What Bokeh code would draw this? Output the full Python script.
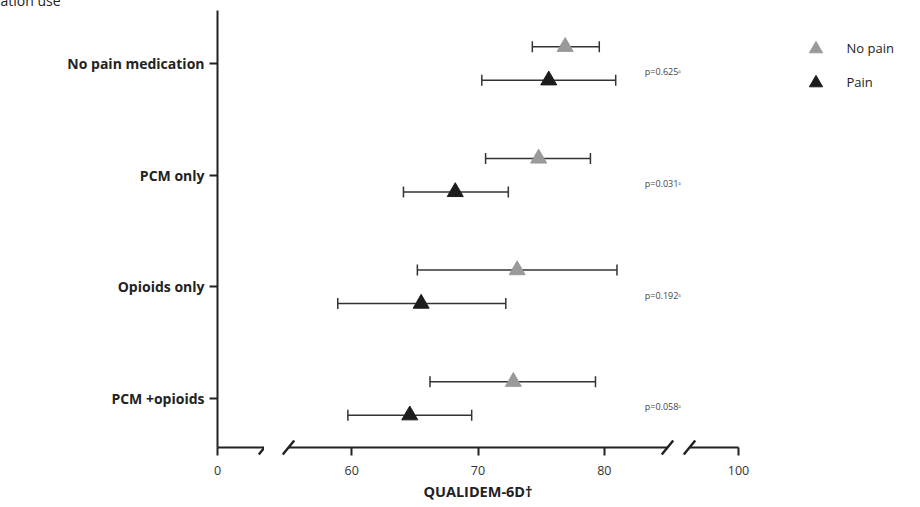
from bokeh.plotting import figure
from bokeh.models import (FixedTicker, Whisker, ColumnDataSource, Legend, LegendItem,
                          TeeHead, Range1d)
from bokeh.layouts import row
from bokeh.embed import file_html
from bokeh.resources import INLINE
from bokeh.core.properties import value

# ---------------- data ----------------
categories = ["No pain medication", "PCM only", "Opioids only", "PCM +opioids"]
cat_pos = [4, 3, 2, 1]
nopain_mean = [76.9, 74.8, 73.1, 72.8]
nopain_low = [74.3, 70.6, 65.2, 66.2]
nopain_high = [79.6, 78.9, 81.0, 79.3]
pain_mean = [75.6, 68.2, 65.5, 64.6]
pain_low = [70.3, 64.1, 58.9, 59.7]
pain_high = [80.9, 72.4, 72.2, 69.5]
p_values = ["p=0.625", "p=0.031", "p=0.192", "p=0.058"]
ticks_left = [0]
ticks_mid = [60, 70, 80]
ticks_right = [100]
series_names = ["No pain", "Pain"]
y_title = "Pain medication use"
x_title = "QUALIDEM-6D\u2020"

# ---------------- style ----------------
GREY = "#9a9a9a"
BLACK = "#1c1c1c"
AX = "#222222"
FONT = "Open Sans"
OFF = 0.15
NAN = float("nan")

y_range = Range1d(0.561, 4.475)
FRAME_H = 437


def base_fig(xr, fw, left, right, yaxis):
    p = figure(x_range=xr, y_range=y_range, frame_width=fw, frame_height=FRAME_H,
               min_border_left=left, min_border_right=right, min_border_top=10,
               min_border_bottom=0, output_backend="svg", toolbar_location=None,
               y_axis_location="left" if yaxis else None)
    p.outline_line_color = None
    p.xgrid.visible = False
    p.ygrid.visible = False
    p.background_fill_color = "white"
    p.border_fill_color = "white"
    xa = p.xaxis[0]
    xa.axis_line_width = 2
    xa.axis_line_color = AX
    xa.major_tick_line_width = 2
    xa.major_tick_line_color = AX
    xa.major_tick_out = 8
    xa.major_tick_in = 0
    xa.minor_tick_line_color = None
    xa.major_label_text_font = FONT
    xa.major_label_text_font_size = "12.5px"
    xa.major_label_text_color = "#333333"
    xa.major_label_standoff = 10
    return p


def add_slashes(p, xs):
    p.scatter(x=xs, y=[y_range.start] * len(xs), marker="dash", size=18,
              angle=0.88, line_color=AX, line_width=2.5, level="overlay")


# ---------- left panel (0) ----------
xA = Range1d(0, 3.76)
pA = base_fig(xA, 47, 217, 0, True)
pA.xaxis.ticker = FixedTicker(ticks=ticks_left)
ya = pA.yaxis[0]
ya.ticker = FixedTicker(ticks=cat_pos)
ya.major_label_overrides = {c: lab for c, lab in zip(cat_pos, categories)}
ya.axis_line_width = 2
ya.axis_line_color = AX
ya.major_tick_line_width = 2
ya.major_tick_line_color = AX
ya.major_tick_out = 8
ya.major_tick_in = 0
ya.minor_tick_line_color = None
ya.major_label_text_font = FONT
ya.major_label_text_font_style = "bold"
ya.major_label_text_font_size = "14px"
ya.major_label_text_color = AX
ya.major_label_standoff = 5
add_slashes(pA, [xA.end])
# title at the top-left, cut by the top edge as in the reference
pA.text(x=[xA.start], y=[y_range.end], text=[y_title], x_offset=-288.6, y_offset=-10,
        text_font=value(FONT), text_font_size="14px", text_color=AX,
        text_baseline="alphabetic", text_align="left", level="overlay")

# ---------- middle panel (55-85) ----------
xB = Range1d(55, 85)
pB = base_fig(xB, 379, 24, 15, False)
pB.xaxis.ticker = FixedTicker(ticks=ticks_mid)
pB.xaxis.axis_label = x_title
pB.xaxis.axis_label_text_font = FONT
pB.xaxis.axis_label_text_font_style = "bold"
pB.xaxis.axis_label_text_font_size = "14.5px"
pB.xaxis.axis_label_text_color = AX
pB.xaxis.axis_label_standoff = 4
add_slashes(pB, [xB.start, xB.end])

src_np = ColumnDataSource(dict(y=[c + OFF for c in cat_pos], mean=nopain_mean,
                               low=nopain_low, high=nopain_high))
src_p = ColumnDataSource(dict(y=[c - OFF for c in cat_pos], mean=pain_mean,
                              low=pain_low, high=pain_high))
for src in (src_np, src_p):
    w = Whisker(source=src, base="y", lower="low", upper="high", dimension="width",
                line_color="#333333", line_width=1.5,
                upper_head=TeeHead(size=11, line_color="#333333", line_width=1.5),
                lower_head=TeeHead(size=11, line_color="#333333", line_width=1.5))
    pB.add_layout(w)
pB.scatter("mean", "y", source=src_np, marker="triangle", size=16,
           fill_color=GREY, line_color=GREY)
pB.scatter("mean", "y", source=src_p, marker="triangle", size=16,
           fill_color=BLACK, line_color=BLACK)

pB.text(x=[83.2] * len(p_values), y=[c - 0.075 for c in cat_pos],
        text=[s + "\u1d43" for s in p_values], text_font=value(FONT),
        text_font_size="9px", text_color="#444444", text_baseline="middle",
        text_align="left", level="overlay")

# ---------- right panel (96-100, frame widened for the legend) ----------
xC = Range1d(96.1, 113.85)
pC = base_fig(xC, 223, 7, 0, False)
pC.xaxis.ticker = FixedTicker(ticks=ticks_right)
pC.xaxis.bounds = (xC.start, ticks_right[-1])
add_slashes(pC, [xC.start])

# legend-only renderers (one undrawable NaN point each, so the legend has a glyph)
leg_np = pC.scatter(x=[NAN], y=[NAN], marker="triangle", size=16,
                    fill_color=GREY, line_color=GREY)
leg_p = pC.scatter(x=[NAN], y=[NAN], marker="triangle", size=16,
                   fill_color=BLACK, line_color=BLACK)
legend = Legend(items=[LegendItem(label=series_names[0], renderers=[leg_np]),
                       LegendItem(label=series_names[1], renderers=[leg_p])],
                location=(109.5, 348.5), border_line_color=None, background_fill_alpha=0,
                padding=0, margin=0, spacing=1, glyph_width=33, glyph_height=33,
                label_height=33, label_standoff=15, label_text_font=FONT,
                label_text_font_size="13px", label_text_color=AX)
pC.add_layout(legend)

layout = row(pA, pB, pC)
open("out.html", "w").write(file_html(layout, INLINE))
